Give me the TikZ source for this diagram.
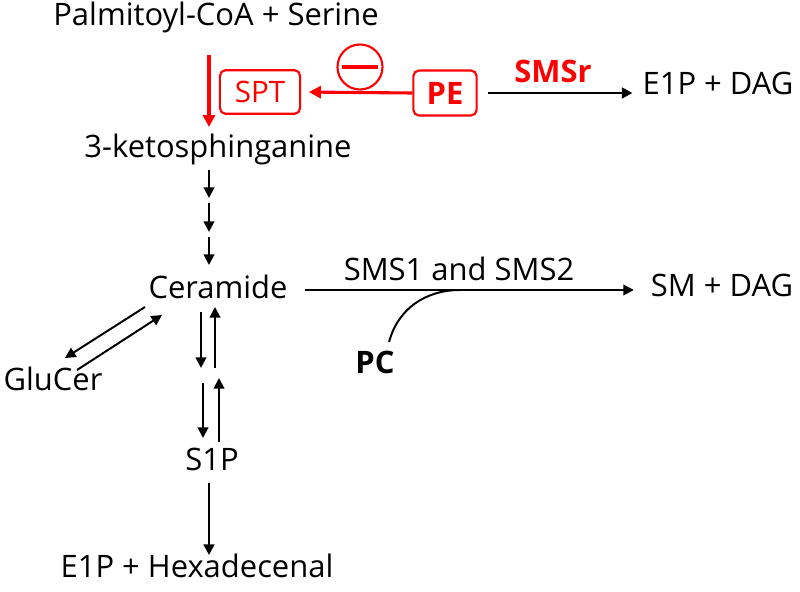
\documentclass[tikz,border=0pt]{standalone}
\usepackage{fontspec}
\setmainfont{Open Sans}
\usetikzlibrary{arrows.meta}
\newcommand\pwfont{\fontsize{22}{26}\selectfont}

\begin{document}
\begin{tikzpicture}[x=0.025cm,y=-0.025cm,font=\pwfont]
  \tikzset{
    met/.style={anchor=base,inner sep=0pt},
    enz/.style={draw=red,text=red,line width=1.5pt,rounded corners=4pt,inner sep=0pt},
    rxn/.style={line width=1.4pt,-{Triangle[length=7.5pt,width=7.5pt]}},
    rrxn/.style={draw=red,line width=2.2pt,-{Triangle[length=8.5pt,width=8.5pt]}}
  }
  \useasboundingbox (0,0) rectangle (800,591);
  % metabolites
  \node[met] (pal) at (216,26) {Palmitoyl-CoA + Serine};
  \node[met] (keto) at (218,157) {3-ketosphinganine};
  \node[met] (cer) at (218,298) {Ceramide};
  \node[met] (glu) at (53,390) {GluCer};
  \node[met] (s1p) at (212,470) {S1P};
  \node[met] (hex) at (197,577) {E1P + Hexadecenal};
  \node[met] (sm) at (722,296) {SM + DAG};
  \node[met] (e1p) at (718,95) {E1P + DAG};
  \node[met,font=\pwfont\bfseries] (pc) at (375,373) {PC};
  \node[met] (sms) at (459,280) {SMS1 and SMS2};
  % enzymes / regulation
  \node[enz,minimum width=57pt,minimum height=31pt,font=\fontsize{21}{25}\selectfont] (spt) at (260,92) {SPT};
  \node[enz,minimum width=45pt,minimum height=32pt,font=\pwfont\bfseries] (pe) at (445,93) {PE};
  \node[met,text=red,font=\pwfont\bfseries] (smsr) at (553,82) {SMSr};
  \node[circle,draw=red,line width=1.5pt,minimum size=32pt,inner sep=0pt] (inh) at (360,67) {};
  \draw[red,line width=2.7pt] ([xshift=-13pt]inh.center) -- ([xshift=13pt]inh.center);
  % free ends of the pathway arrows
  \coordinate (p0) at (209,55);  \coordinate (p1) at (209,127);
  \coordinate (k0) at (209,170); \coordinate (k1) at (209,198);
  \coordinate (k2) at (209,203); \coordinate (k3) at (209,232);
  \coordinate (k4) at (209,237); \coordinate (k5) at (209,265);
  \coordinate (c0) at (145,307); \coordinate (g0) at (65,358);
  \coordinate (g1) at (77,370);  \coordinate (c1) at (162,315);
  \coordinate (d0) at (201,312); \coordinate (d1) at (201,368);
  \coordinate (u0) at (215,368); \coordinate (u1) at (215,307);
  \coordinate (d2) at (203,383); \coordinate (d3) at (203,438);
  \coordinate (u2) at (219,442); \coordinate (u3) at (219,378);
  \coordinate (s0) at (209,483); \coordinate (s1) at (209,555);
  \coordinate (pcj) at (460,290);
  % arrows
  \draw[rrxn] (p0) -- (p1);
  \draw[rrxn,shorten >=5.5pt] (pe.west) -- (spt.east);
  \draw[rxn,line width=2pt,shorten <=7pt,shorten >=7pt] (pe.east) -- (pe.east -| e1p.west);
  \draw[rxn] (k0) -- (k1);
  \draw[rxn] (k2) -- (k3);
  \draw[rxn] (k4) -- (k5);
  \draw[rxn,shorten <=12pt,shorten >=12pt] (cer.east |- pcj) -- (pcj -| sm.west);
  \draw[line width=1.4pt] ([shift={(10pt,6pt)}]pc.north) to[out=75,in=180] (pcj);
  \draw[rxn] (c0) -- (g0);
  \draw[rxn] (g1) -- (c1);
  \draw[rxn] (d0) -- (d1);
  \draw[rxn] (u0) -- (u1);
  \draw[rxn] (d2) -- (d3);
  \draw[rxn] (u2) -- (u3);
  \draw[rxn,line width=2pt] (s0) -- (s1);
\end{tikzpicture}
\end{document}
